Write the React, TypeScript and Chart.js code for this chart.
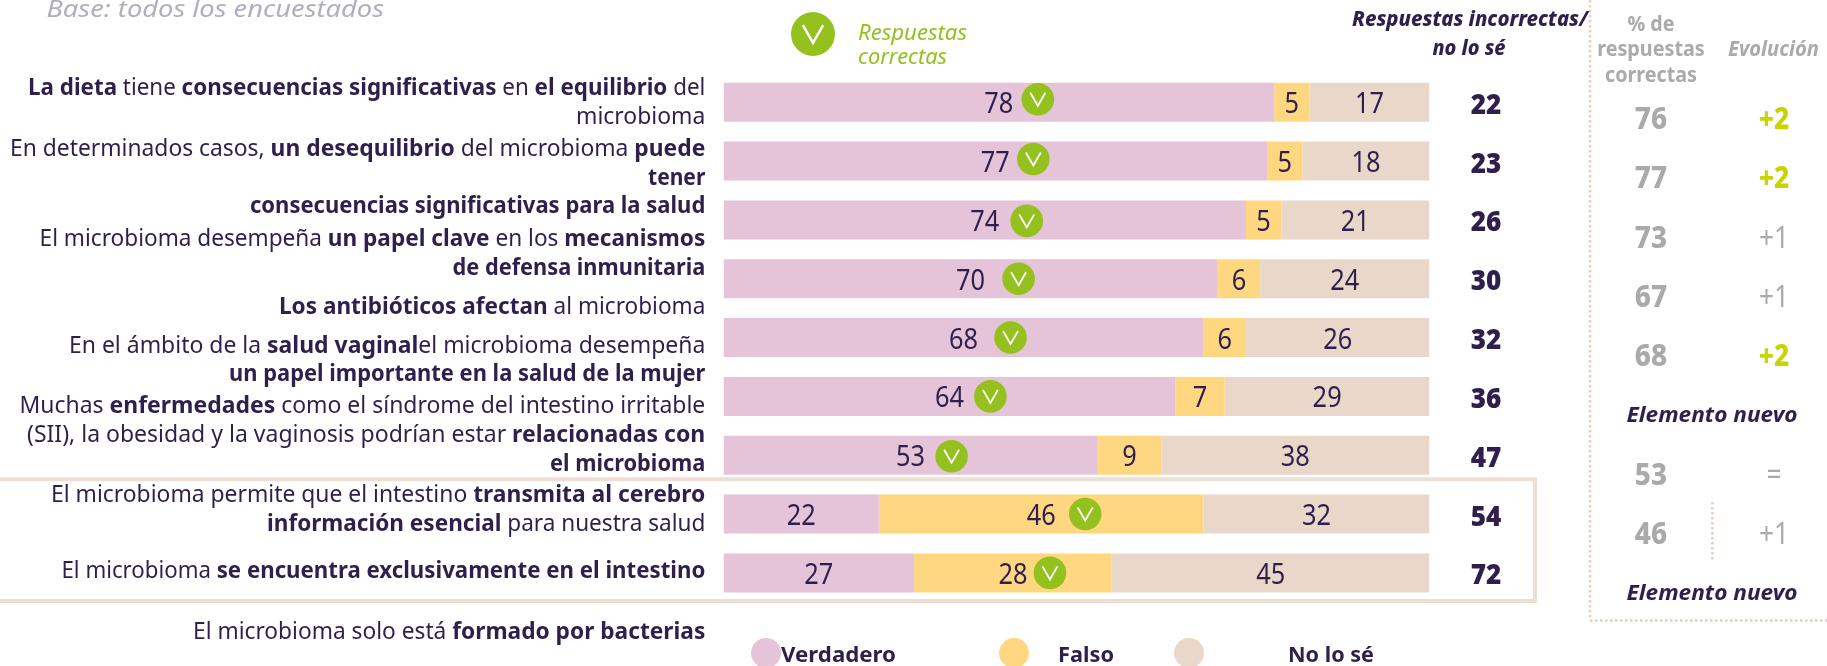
import React, { useEffect, useRef } from "react";
import { Chart, registerables } from "chart.js";

Chart.register(...registerables);

const categories = [
  "La dieta tiene consecuencias significativas en el equilibrio del microbioma",
  "En determinados casos, un desequilibrio del microbioma puede tener consecuencias significativas para la salud",
  "El microbioma desempeña un papel clave en los mecanismos de defensa inmunitaria",
  "Los antibióticos afectan al microbioma",
  "En el ámbito de la salud vaginalel microbioma desempeña un papel importante en la salud de la mujer",
  "Muchas enfermedades como el síndrome del intestino irritable (SII), la obesidad y la vaginosis podrían estar relacionadas con el microbioma",
  "El microbioma permite que el intestino transmita al cerebro información esencial para nuestra salud",
  "El microbioma se encuentra exclusivamente en el intestino",
  "El microbioma solo está formado por bacterias",
];
const verdadero = [78, 77, 74, 70, 68, 64, 53, 22, 27];
const falso = [5, 5, 5, 6, 6, 7, 9, 46, 28];
const noLoSe = [17, 18, 21, 24, 26, 29, 38, 32, 45];
const incorrectas = [22, 23, 26, 30, 32, 36, 47, 54, 72];
const correctSeries = [0, 0, 0, 0, 0, 0, 0, 1, 1];
const porcentaje = ["76", "77", "73", "67", "68", null, "53", "46", null];
const evolucion = ["+2", "+2", "+1", "+1", "+2", null, "=", "+1", null];
const seriesNames = ["Verdadero", "Falso", "No lo sé"];

// Each run: [text, bold]
type Run = [string, number];
const statementLines: Run[][] = [
  [["La dieta", 1], [" tiene ", 0], ["consecuencias significativas", 1], [" en ", 0], ["el equilibrio", 1], [" del", 0]],
  [["microbioma", 0]],
  [["En determinados casos, ", 0], ["un desequilibrio", 1], [" del microbioma ", 0], ["puede", 1]],
  [["tener", 1]],
  [["consecuencias significativas para la salud", 1]],
  [["El microbioma desempeña ", 0], ["un papel clave", 1], [" en los ", 0], ["mecanismos", 1]],
  [["de defensa inmunitaria", 1]],
  [["Los antibióticos afectan", 1], [" al microbioma", 0]],
  [["En el ámbito de la ", 0], ["salud vaginal", 1], ["el microbioma desempeña", 0]],
  [["un papel importante en la salud de la mujer", 1]],
  [["Muchas ", 0], ["enfermedades", 1], [" como el síndrome del intestino irritable", 0]],
  [["(SII), la obesidad y la vaginosis podrían estar ", 0], ["relacionadas con", 1]],
  [["el microbioma", 1]],
  [["El microbioma permite que el intestino ", 0], ["transmita al cerebro", 1]],
  [["información esencial", 1], [" para nuestra salud", 0]],
  [["El microbioma ", 0], ["se encuentra exclusivamente en el intestino", 1]],
  [["El microbioma solo está ", 0], ["formado por bacterias", 1]],
];

// layout (pixels), separate from the data
const lineLeft = [28, 576, 10, 648, 250, 39.6, 452.5, 279, 69, 229, 19.5, 27, 550, 51, 267, 61.5, 193];
const lineBase = [95, 124, 155.7, 185, 213, 246, 274.7, 314, 352.7, 381, 413.3, 441.7, 470.7, 501.7, 530.7, 577.7, 639.3];
const LINE_RIGHT = 705.3;
const iconOffset = [39, 38, 42, 48, 47, 41, 41, 44, 37];
const iconDy = [-3, -2, 1, 0, 0, 0, 1, 0, 0];
const panelDrift = 0.42;

const INK = "#2e1f4d";
const GREY = "#aaaaaa";
const LIME = "#c8d400";
const GREEN = "#95c11f";
const BEIGE = "#e9d8ca";
const PINK = "#e5c4d9";
const YELLOW = "#ffd780";
const FONT = '"Noto Sans"';

function text(ctx: any, s: string, x: number, y: number, font: string, color: string, align = "center", sx = 1, fitW = 0) {
  ctx.save();
  ctx.font = font;
  ctx.fillStyle = color;
  ctx.textAlign = align;
  ctx.textBaseline = "alphabetic";
  const k = fitW ? fitW / ctx.measureText(s).width : sx;
  ctx.translate(x, y);
  ctx.scale(k, 1);
  ctx.fillText(s, 0, 0);
  ctx.restore();
}

function check(ctx: any, cx: number, cy: number, r: number) {
  ctx.save();
  ctx.fillStyle = GREEN;
  ctx.beginPath();
  ctx.arc(cx, cy, r, 0, Math.PI * 2);
  ctx.fill();
  ctx.strokeStyle = "#ffffff";
  ctx.lineWidth = r * 0.11;
  ctx.beginPath();
  ctx.moveTo(cx - r * 0.46, cy - r * 0.4);
  ctx.lineTo(cx, cy + r * 0.4);
  ctx.lineTo(cx + r * 0.46, cy - r * 0.4);
  ctx.stroke();
  ctx.restore();
}

function dotted(ctx: any, x1: number, y1: number, x2: number, y2: number) {
  ctx.save();
  ctx.strokeStyle = "#e6cfbd";
  ctx.lineWidth = 2.5;
  ctx.setLineDash([2.5, 2.5]);
  ctx.beginPath();
  ctx.moveTo(x1, y1);
  ctx.lineTo(x2, y2);
  ctx.stroke();
  ctx.restore();
}

const overlay = {
  id: "overlay",
  afterDatasetsDraw(chart: any) {
    const ctx = chart.ctx;
    const y = chart.scales.y;

    // highlight frame (open on the left) and dotted panel
    ctx.save();
    ctx.strokeStyle = "#eddfd3";
    ctx.lineWidth = 4;
    ctx.beginPath();
    ctx.moveTo(0, 479.3);
    ctx.lineTo(1535, 479.3);
    ctx.lineTo(1535, 601);
    ctx.lineTo(0, 601);
    ctx.stroke();
    ctx.restore();
    dotted(ctx, 1590, 0, 1590, 620.5);
    dotted(ctx, 1590, 620.5, 1827, 620.5);
    dotted(ctx, 1712.4, 502, 1712.4, 561);

    // statements
    statementLines.forEach((runs, i) => {
      const fontOf = (b: number) => `${b ? 700 : 400} 23.5px ${FONT}`;
      ctx.save();
      let w = 0;
      runs.forEach(([t, b]) => {
        ctx.font = fontOf(b);
        w += ctx.measureText(t).width;
      });
      const sx = (LINE_RIGHT - lineLeft[i]) / w;
      ctx.translate(lineLeft[i], lineBase[i]);
      ctx.scale(sx, 1);
      ctx.fillStyle = INK;
      ctx.textAlign = "left";
      let cursor = 0;
      runs.forEach(([t, b]) => {
        ctx.font = fontOf(b);
        ctx.fillText(t, cursor, 0);
        cursor += ctx.measureText(t).width;
      });
      ctx.restore();
    });

    // segment values and correct-answer marks
    chart.data.datasets.forEach((ds: any, di: number) => {
      const meta = chart.getDatasetMeta(di);
      meta.data.forEach((bar: any, i: number) => {
        const cx = (bar.base + bar.x) / 2;
        text(ctx, String(ds.data[i]), cx, bar.y + 11, `400 28.5px ${FONT}`, INK, "center", 0.89);
        if (correctSeries[i] === di) check(ctx, cx + iconOffset[i], bar.y + iconDy[i], 16.3);
      });
    });

    // right-hand columns
    categories.forEach((_, i) => {
      const rowY = y.getPixelForValue(i);
      text(ctx, String(incorrectas[i]), 1486, rowY + 11.5, `900 29px ${FONT}`, INK, "center", 0.9);
      const py = rowY + 16 + i * panelDrift;
      if (porcentaje[i] === null) {
        text(ctx, "Elemento nuevo", 1712, py + 8, `italic 700 22px ${FONT}`, INK, "center", 1, 171);
      } else {
        text(ctx, porcentaje[i] as string, 1651, py + 11, `800 31px ${FONT}`, GREY, "center", 0.9);
        const ev = evolucion[i] as string;
        const strong = ev === "+2";
        text(ctx, ev, 1774, py + 11, `${strong ? 800 : 400} 31px ${FONT}`, strong ? LIME : GREY, "center", 0.85);
      }
    });

    // headers
    text(ctx, "Base: todos los encuestados", 46.5, 17.3, `italic 400 23px ${FONT}`, "#b3aebd", "left", 1, 337.5);
    check(ctx, 813, 34, 22);
    text(ctx, "Respuestas", 858, 40, `italic 400 21.5px ${FONT}`, GREEN, "left", 1, 109);
    text(ctx, "correctas", 858, 64, `italic 400 21.5px ${FONT}`, GREEN, "left", 1, 89);
    text(ctx, "Respuestas incorrectas/", 1470, 26, `italic 800 21px ${FONT}`, INK, "center", 1, 236);
    text(ctx, "no lo sé", 1469, 55, `italic 800 21px ${FONT}`, INK, "center", 1, 73);
    text(ctx, "% de", 1651, 31, `700 21.5px ${FONT}`, GREY, "center", 1, 47);
    text(ctx, "respuestas", 1651, 56, `700 21.5px ${FONT}`, GREY, "center", 1, 107.6);
    text(ctx, "correctas", 1651, 82, `700 21.5px ${FONT}`, GREY, "center", 1, 92);
    text(ctx, "Evolución", 1773.5, 56, `italic 700 21.5px ${FONT}`, GREY, "center", 1, 91);

    // legend
    const legendCx = [766, 1014, 1189];
    const legendX = [781, 1058, 1288];
    const legendW = [115, 56, 86];
    seriesNames.forEach((name, i) => {
      ctx.save();
      ctx.fillStyle = chart.data.datasets[i].backgroundColor;
      ctx.beginPath();
      ctx.arc(legendCx[i], 653, 15, 0, Math.PI * 2);
      ctx.fill();
      ctx.restore();
      text(ctx, name, legendX[i], 662, `700 22px ${FONT}`, INK, "left", 1, legendW[i]);
    });
  },
};

export default function App() {
  const ref = useRef<HTMLCanvasElement>(null);
  useEffect(() => {
    const chart = new Chart(ref.current as HTMLCanvasElement, {
      type: "bar",
      data: {
        labels: categories,
        datasets: [
          { label: seriesNames[0], data: verdadero, backgroundColor: PINK },
          { label: seriesNames[1], data: falso, backgroundColor: YELLOW },
          { label: seriesNames[2], data: noLoSe, backgroundColor: BEIGE },
        ],
      },
      options: {
        indexAxis: "y",
        responsive: false,
        animation: false,
        layout: { padding: { left: 723.5, right: 397.5, top: 72.8, bottom: 63.7 } },
        datasets: { bar: { barPercentage: 0.663, categoryPercentage: 1 } },
        scales: {
          x: { stacked: true, min: 0, max: 100, display: false },
          y: { stacked: true, display: false },
        },
        plugins: { legend: { display: false }, tooltip: { enabled: false } },
      },
      plugins: [overlay],
    } as any);
    return () => chart.destroy();
  }, []);
  return (
    <div style={{ position: "fixed", left: 0, top: 0, width: 1827, height: 666, background: "#fff" }}>
      <canvas ref={ref} width={1827} height={666} style={{ display: "block" }} />
    </div>
  );
}
